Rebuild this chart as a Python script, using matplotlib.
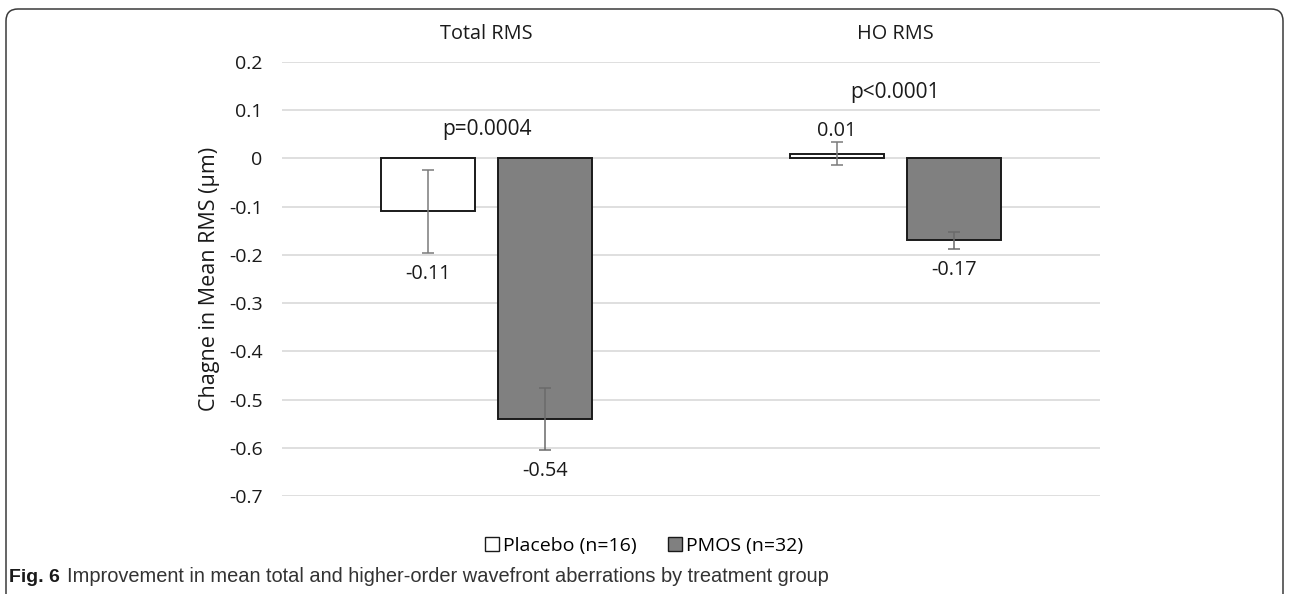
import matplotlib.pyplot as plt
from matplotlib.patches import FancyBboxPatch, Patch
from matplotlib import font_manager

plt.rcParams['font.family'] = ['Open Sans', 'DejaVu Sans']
plt.rcParams['font.size'] = 14

# data
categories = ['Total RMS', 'HO RMS']
placebo = [-0.11, 0.01]
placebo_err = [0.086, 0.024]
pmos = [-0.54, -0.17]
pmos_err = [0.065, 0.018]
p_values = ['p=0.0004', 'p<0.0001']
p_heights = [0.06, 0.137]
series_names = ['Placebo (n=16)', 'PMOS (n=32)']

fig = plt.figure(figsize=(12.9, 5.94), dpi=100)

# background layer in pixel coordinates: rounded frame + caption
bg = fig.add_axes([0, 0, 1, 1], zorder=-1)
bg.set_xlim(0, 1290)
bg.set_ylim(594, 0)
bg.axis('off')
bg.add_patch(FancyBboxPatch((6, 9), 1277, 700, boxstyle='round,pad=0,rounding_size=12',
                            fc='white', ec='#3a3a3a', lw=1.1))

names = {f.name for f in font_manager.fontManager.ttflist}
cap_font = 'Liberation Sans Narrow' if 'Liberation Sans Narrow' in names else 'Liberation Sans'
bg.text(9, 577, 'Fig. 6', fontsize=14, fontweight='bold', family=cap_font,
        va='center', ha='left', color='#1a1a1a')
bg.text(67, 577, 'Improvement in mean total and higher-order wavefront aberrations by treatment group',
        fontsize=14.4, family=cap_font, va='center', ha='left', color='#333333')

ax = fig.add_axes([282 / 1290, 1 - 496 / 594, 818 / 1290, 434 / 594])

x = list(range(len(categories)))
off = 0.143
w = 0.228
xp = [i - off for i in x]
xm = [i + off for i in x]

ax.bar(xp, placebo, w, color='white', edgecolor='#1a1a1a', lw=1.4, zorder=2)
ax.bar(xm, pmos, w, color='#808080', edgecolor='#1a1a1a', lw=1.4, zorder=2)
ax.errorbar(xp, placebo, yerr=placebo_err, fmt='none', ecolor='#7a7a7a',
            elinewidth=1.1, capsize=4, capthick=1.1, zorder=3)
ax.errorbar(xm, pmos, yerr=pmos_err, fmt='none', ecolor='#6a6a6a',
            elinewidth=1.1, capsize=4, capthick=1.1, zorder=3)

for xs, vals, errs in [(xp, placebo, placebo_err), (xm, pmos, pmos_err)]:
    for xi, v, e in zip(xs, vals, errs):
        if v >= 0:
            ax.annotate(f'{v:.2f}', (xi, v + e), xytext=(0, 1), textcoords='offset points',
                        ha='center', va='bottom', fontsize=14.3, color='#1a1a1a')
        else:
            ax.annotate(f'{v:.2f}', (xi, v - e), xytext=(0, -8), textcoords='offset points',
                        ha='center', va='top', fontsize=14.3, color='#1a1a1a')

for i, (p, h) in enumerate(zip(p_values, p_heights)):
    ax.text(i, h, p, ha='center', va='center', fontsize=15, color='#1a1a1a')

ax.set_xlim(-0.5, 1.5)
ax.set_ylim(-0.7, 0.2)
ax.set_yticks([0.2, 0.1, 0, -0.1, -0.2, -0.3, -0.4, -0.5, -0.6, -0.7])
ax.set_yticklabels(['0.2', '0.1', '0', '-0.1', '-0.2', '-0.3', '-0.4', '-0.5', '-0.6', '-0.7'])
ax.set_xticks(x)
ax.set_xticklabels(categories)
ax.xaxis.tick_top()
ax.tick_params(axis='x', length=0, pad=13, labelsize=14.3, colors='#1a1a1a')
ax.tick_params(axis='y', length=0, pad=14, labelsize=14, colors='#1a1a1a')
ax.yaxis.grid(True, color='#d9d9d9', lw=1.2, zorder=0)
ax.set_axisbelow(True)
for s in ax.spines.values():
    s.set_visible(False)
ax.set_ylabel('Chagne in Mean RMS (\u03bcm)', fontsize=15.5, color='#1a1a1a', labelpad=6)

handles = [Patch(fc='white', ec='#1a1a1a', lw=1), Patch(fc='#808080', ec='#1a1a1a', lw=1)]
fig.legend(handles, series_names, loc='center', bbox_to_anchor=(644 / 1290, 1 - 546 / 594),
           ncol=2, frameon=False, fontsize=14, handlelength=0.75, handleheight=0.75,
           handletextpad=0.2, columnspacing=1.6)

fig.savefig('out.png', dpi=100)
